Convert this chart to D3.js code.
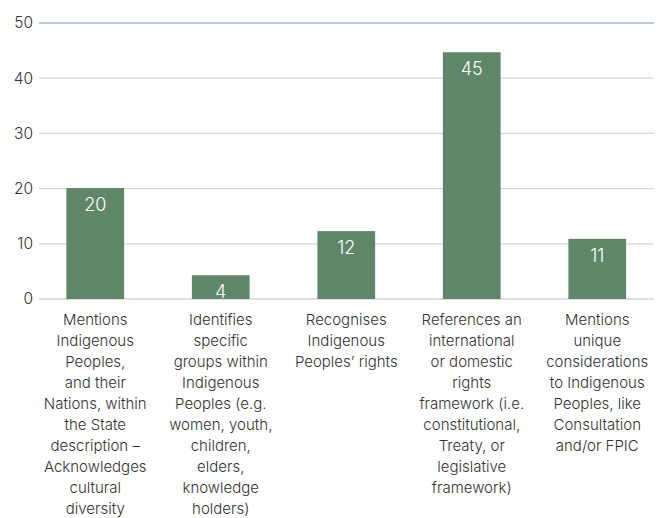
<!DOCTYPE html>
<html><head><meta charset="utf-8">
<script src="https://cdn.jsdelivr.net/npm/d3@7"></script>
<style>
html,body{margin:0;padding:0;background:#fff;}
text{font-family:Inter,"Noto Sans",sans-serif;}
</style></head>
<body><svg id="c" width="667" height="518"></svg>
<script>
const categories = [
  ["Mentions","Indigenous","Peoples,","and their","Nations, within","the State","description –","Acknowledges","cultural","diversity"],
  ["Identifies","specific","groups within","Indigenous","Peoples (e.g.","women, youth,","children,","elders,","knowledge","holders)"],
  ["Recognises","Indigenous","Peoples’ rights"],
  ["References an","international","or domestic","rights","framework (i.e.","constitutional,","Treaty, or","legislative","framework)"],
  ["Mentions","unique","considerations","to Indigenous","Peoples, like","Consultation","and/or FPIC"]
];
const values = [20.1, 4.3, 12.3, 44.7, 10.9];
const valueLabels = ["20", "4", "12", "45", "11"];
const yTicks = [0, 10, 20, 30, 40, 50];

const svg = d3.select("#c");
const x = d3.scaleBand().domain(d3.range(values.length)).range([32.5, 660]).paddingInner(0.54).paddingOuter(0.27);
const y = d3.scaleLinear().domain([0, 50]).range([299, 23]);

// gridlines
svg.append("g").selectAll("line").data(yTicks).join("line")
  .attr("x1", 39).attr("x2", 654)
  .attr("y1", d => y(d)).attr("y2", d => y(d))
  .attr("stroke", d => d === 50 ? "#a4b9c3" : "#d5d5d5").attr("stroke-width", 1.3);

// y tick labels
svg.append("g").selectAll("text").data(yTicks).join("text")
  .attr("x", 33).attr("y", d => y(d)).attr("dy", "0.35em")
  .attr("text-anchor", "end").attr("font-size", 15.5).attr("font-weight", 300).attr("fill", "#333")
  .text(d => d);

// bars
svg.append("g").selectAll("rect").data(values).join("rect")
  .attr("x", (d, i) => x(i)).attr("width", x.bandwidth())
  .attr("y", d => y(d)).attr("height", d => y(0) - y(d))
  .attr("fill", "#5f8669");

// value labels
svg.append("g").selectAll("text").data(values).join("text")
  .attr("x", (d, i) => x(i) + x.bandwidth() / 2)
  .attr("y", d => Math.min(y(d) + 23, y(0) - 1))
  .attr("text-anchor", "middle").attr("font-size", 18).attr("font-weight", 300).attr("fill", "#fff")
  .text((d, i) => valueLabels[i]);

// category labels
const cat = svg.append("g").selectAll("text").data(categories).join("text")
  .attr("text-anchor", "middle").attr("font-size", 15).attr("font-weight", 300).attr("fill", "#333")
  .attr("transform", (d, i) => `translate(${x(i) + x.bandwidth() / 2},325)`);
cat.selectAll("tspan").data(d => d).join("tspan")
  .attr("x", 0).attr("y", (d, j) => j * 21)
  .text(d => d);
</script></body></html>
